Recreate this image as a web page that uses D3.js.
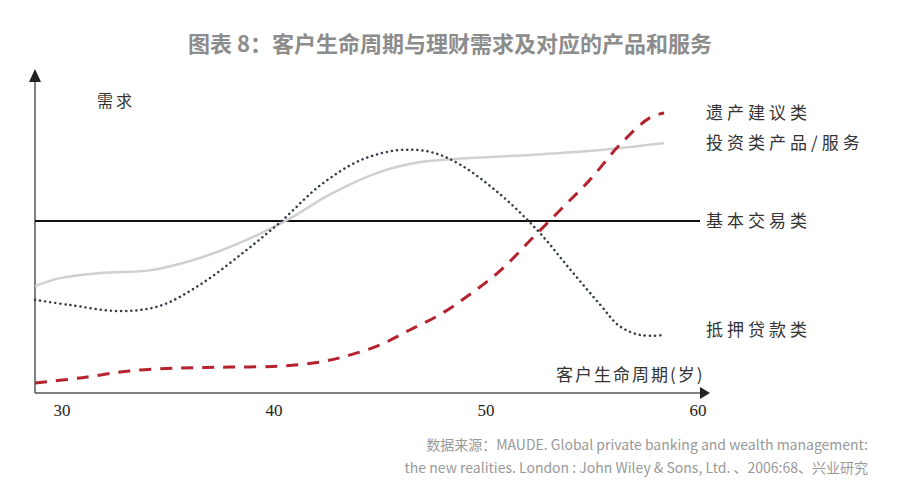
<!DOCTYPE html>
<html><head><meta charset="utf-8">
<script src="https://cdn.jsdelivr.net/npm/d3@7"></script>
<style>body{margin:0;background:#fff}</style></head>
<body><svg id="c" width="900" height="489"></svg>
<script>
const tickLabels=[30,40,50,60];
const investAges=[28.73,29.9,31.8,34.2,36.5,38.9,40.8,42.6,45.0,46.9,49.2,52.1,55.4,58.4];
const investVals=[33.4,35.9,37.5,38.4,42.2,48.4,54.7,61.9,69.1,72.2,73.4,74.4,75.9,78.1];
const mortAges=[28.73,30.38,32.7,34.6,36.5,38.4,40.3,42.2,44.1,45.9,47.4,48.8,50.7,52.5,54.0,55.4,56.3,57.3,58.4];
const mortVals=[29.1,27.5,25.6,27.2,33.8,43.1,53.4,65,72.8,75.9,75.3,71.3,61.9,50.3,38.4,27.5,20.9,18.1,18.1];
const estateAges=[28.73,30.85,33.2,35.6,37.9,40.3,42.2,43.6,45.0,46.4,47.8,49.2,50.7,52.1,53.5,54.9,56.3,57.7,58.4];
const estateVals=[3.1,4.7,6.9,7.8,8.1,8.4,9.7,11.9,15,19.7,24.4,30.6,38.4,47.8,57.2,66.6,77.5,85.9,87.5];
const basicVal=53.75;
const labels=[["遗产建议类",113],["投资类产品/服务",143],["基本交易类",221],["抵押贷款类",330]];

const svg=d3.select("#c");
const x=d3.scaleLinear().domain([30,60]).range([62,698]);
const y=d3.scaleLinear().domain([0,100]).range([393,73]);
const font="'Noto Sans CJK SC',sans-serif";
svg.append("text").attr("x",450).attr("y",52).attr("text-anchor","middle").attr("font-family",font)
 .attr("font-size",22).attr("font-weight","bold").attr("fill","#8c8c8c").text("图表 8：客户生命周期与理财需求及对应的产品和服务");
svg.append("line").attr("x1",35).attr("x2",35).attr("y1",393).attr("y2",80).attr("stroke","#555").attr("stroke-width",1.5);
svg.append("path").attr("d","M29,82 L35,69 L41,82 Z").attr("fill","#222");
svg.append("line").attr("x1",35).attr("x2",702).attr("y1",393).attr("y2",393).attr("stroke","#555").attr("stroke-width",1.5);
svg.append("path").attr("d","M700,387 L710,393 L700,399 Z").attr("fill","#222");
svg.selectAll(".tk").data(tickLabels).join("text").attr("x",d=>x(d)).attr("y",416).attr("text-anchor","middle")
 .attr("font-family","'Liberation Serif',serif").attr("font-size",17).attr("fill","#222").text(d=>d);
svg.append("text").attr("x",97).attr("y",107).attr("font-family",font).attr("font-size",16).attr("letter-spacing",3).attr("fill","#333").text("需求");
svg.append("text").attr("x",556).attr("y",381).attr("font-family",font).attr("font-size",17).attr("letter-spacing",2).attr("fill","#333").text("客户生命周期(岁)");
const line=d3.line().x(d=>x(d[0])).y(d=>y(d[1])).curve(d3.curveCatmullRom);
const z=(a,b)=>a.map((v,i)=>[v,b[i]]);
svg.append("line").attr("x1",35).attr("x2",700).attr("y1",y(basicVal)).attr("y2",y(basicVal)).attr("stroke","#111").attr("stroke-width",2);
svg.append("path").attr("d",line(z(investAges,investVals))).attr("fill","none").attr("stroke","#d0d0d0").attr("stroke-width",2.5);
svg.append("path").attr("d",line(z(mortAges,mortVals))).attr("fill","none").attr("stroke","#333c4a").attr("stroke-width",2.5).attr("stroke-dasharray","0.1 5").attr("stroke-linecap","round");
svg.append("path").attr("d",line(z(estateAges,estateVals))).attr("fill","none").attr("stroke","#b5232f").attr("stroke-width",3).attr("stroke-dasharray","12 9");
svg.selectAll(".lb").data(labels).join("text").attr("x",706).attr("y",d=>d[1]+6).attr("font-family",font).attr("font-size",17).attr("letter-spacing",4).attr("fill","#333").text(d=>d[0]);
svg.append("text").attr("x",868).attr("y",450).attr("text-anchor","end").attr("font-family",font).attr("font-size",14).attr("fill","#999").text("数据来源：MAUDE. Global private banking and wealth management:");
svg.append("text").attr("x",868).attr("y",473).attr("text-anchor","end").attr("font-family",font).attr("font-size",14).attr("fill","#999").text("the new realities. London : John Wiley & Sons, Ltd. 、2006:68、兴业研究");
</script></body></html>
